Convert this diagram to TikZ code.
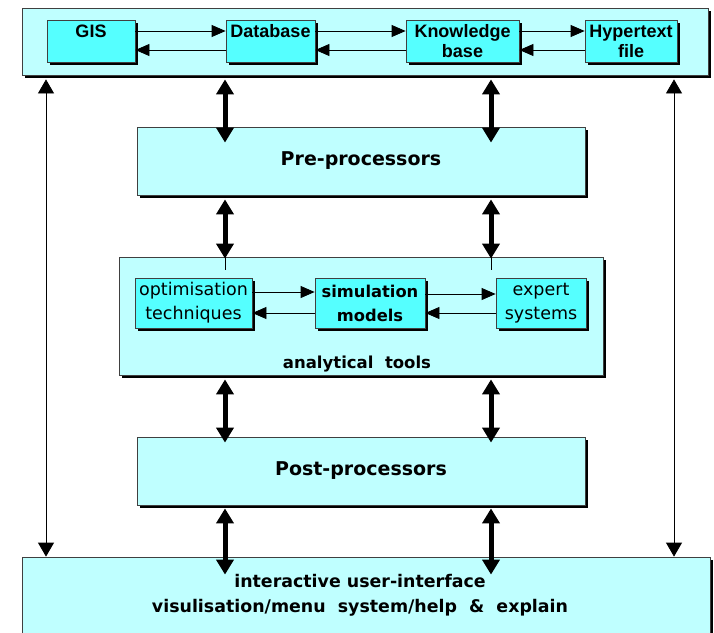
\documentclass[tikz,border=0pt]{standalone}
\usepackage{fontspec}
\setmainfont{Liberation Sans}
\newfontfamily\dvs{DejaVu Sans}
\usetikzlibrary{arrows.meta,shadows}
\definecolor{outerc}{HTML}{BFFFFF}
\definecolor{innerc}{HTML}{55FFFF}
\tikzset{
  boxbase/.style={draw=black!75, line width=0.8pt, inner sep=0pt, align=center,
    drop shadow={shadow xshift=3pt, shadow yshift=-3pt, fill=black, opacity=1}},
  outerbox/.style={boxbase, fill=outerc},
  innerbox/.style={boxbase, fill=innerc, drop shadow={shadow xshift=2.5pt, shadow yshift=-2.5pt, fill=black, opacity=1}},
  harr/.style={-{Triangle[length=14pt,width=12pt]}, line width=0.8pt},
  thinv/.style={{Triangle[length=14pt,width=16pt]}-{Triangle[length=14pt,width=16pt]}, line width=0.8pt},
  thickv/.style={{Triangle[length=15pt,width=17pt]}-{Triangle[length=15pt,width=17pt]}, line width=5pt},
  toptxt/.style={font=\fontsize{18}{20}\selectfont\bfseries},
  bigtxt/.style={font=\dvs\fontsize{19}{21}\selectfont\bfseries},
}
\begin{document}
\begin{tikzpicture}[x=1pt,y=-1pt]
\useasboundingbox (0,0) rectangle (714,632);
% top box
\node[outerbox, minimum width=686pt, minimum height=67pt] (top) at (365,41.5) {};
\node[innerbox, toptxt, minimum width=88pt, minimum height=42pt] (gis) at (91,41) {GIS\\\mbox{}};
\node[innerbox, toptxt, minimum width=89pt, minimum height=42pt] (db) at (270.5,41) {Database\\\mbox{}};
\node[innerbox, toptxt, minimum width=113pt, minimum height=42pt] (kb) at (462.5,41) {Knowledge\\base};
\node[innerbox, toptxt, minimum width=92pt, minimum height=42pt] (ht) at (631,41) {Hypertext\\file};
\draw[harr] ([yshift=10pt]gis.east) -- ([yshift=10pt]db.west);
\draw[harr] ([yshift=-9pt]db.west) -- ([yshift=-9pt]gis.east);
\draw[harr] ([yshift=10pt]db.east) -- ([yshift=10pt]kb.west);
\draw[harr] ([yshift=-9pt]kb.west) -- ([yshift=-9pt]db.east);
\draw[harr] ([yshift=10pt]kb.east) -- ([yshift=10pt]ht.west);
\draw[harr] ([yshift=-9pt]ht.west) -- ([yshift=-9pt]kb.east);
% pre-processors
\node[outerbox, bigtxt, minimum width=448pt, minimum height=68pt] (pre) at (361,161) {Pre-processors};
% analytical tools
\node[outerbox, minimum width=484pt, minimum height=118pt] (ana) at (361,316) {};
\node[font=\dvs\fontsize{16.5}{18}\selectfont\bfseries, anchor=base] (anat) at (357,368) {analytical\ \ tools};
\node[innerbox, minimum width=117pt, minimum height=50pt, font=\dvs\fontsize{17.5}{24}\selectfont] (opt) at (193.5,303) {optimisation\\techniques};
\node[innerbox, minimum width=110pt, minimum height=50pt, font=\dvs\fontsize{16.3}{24}\selectfont\bfseries] (sim) at (370,303) {simulation\\models};
\node[innerbox, minimum width=90pt, minimum height=50pt, font=\dvs\fontsize{17.5}{24}\selectfont] (exp) at (541,303) {expert\\systems};
\draw[harr] ([yshift=11pt]opt.east) -- ([yshift=11pt]sim.west);
\draw[harr] ([yshift=-10pt]sim.west) -- ([yshift=-10pt]opt.east);
\draw[harr] ([yshift=9pt]sim.east) -- ([yshift=9pt]exp.west);
\draw[harr] ([yshift=-10pt]exp.west) -- ([yshift=-10pt]sim.east);
% post-processors
\node[outerbox, bigtxt, minimum width=448pt, minimum height=68pt] (post) at (361,471) {Post-processors};
% bottom box
\node[outerbox, minimum width=688pt, minimum height=90pt] (bot) at (366,602) {};
\node[font=\dvs\fontsize{17.4}{25}\selectfont\bfseries, align=center, anchor=north] (bott) at (360,571) {interactive user-interface\\visulisation/menu\ \ system/help\ \ \&\ \ explain};
% column coordinates
\coordinate (cL) at (46,0);
\coordinate (cA) at (225,0);
\coordinate (cB) at (491,0);
\coordinate (cR) at (674,0);
% thin long arrows
\draw[thinv] ([yshift=-4pt]top.south -| cL) -- (bot.north -| cL);
\draw[thinv] ([yshift=-4pt]top.south -| cR) -- (bot.north -| cR);
% thick arrows
\draw[thickv] ([yshift=-4pt]top.south -| cA) -- ([yshift=-16pt]pre.north -| cA);
\draw[thickv] ([yshift=-4pt]top.south -| cB) -- ([yshift=-16pt]pre.north -| cB);
\draw[thickv] ([yshift=-4pt]pre.south -| cA) -- ([yshift=-2pt]ana.north -| cA);
\draw[thickv] ([yshift=-4pt]pre.south -| cB) -- ([yshift=-2pt]ana.north -| cB);
\draw[line width=0.8pt] (ana.north -| cA) -- ([yshift=-13pt]ana.north -| cA);
\draw[line width=0.8pt] (ana.north -| cB) -- ([yshift=-13pt]ana.north -| cB);
\draw[thickv] ([yshift=-4pt]ana.south -| cA) -- ([yshift=-6pt]post.north -| cA);
\draw[thickv] ([yshift=-4pt]ana.south -| cB) -- ([yshift=-6pt]post.north -| cB);
\draw[thickv] ([yshift=-3pt]post.south -| cA) -- ([yshift=-18pt]bot.north -| cA);
\draw[thickv] ([yshift=-3pt]post.south -| cB) -- ([yshift=-18pt]bot.north -| cB);
\end{tikzpicture}
\end{document}
